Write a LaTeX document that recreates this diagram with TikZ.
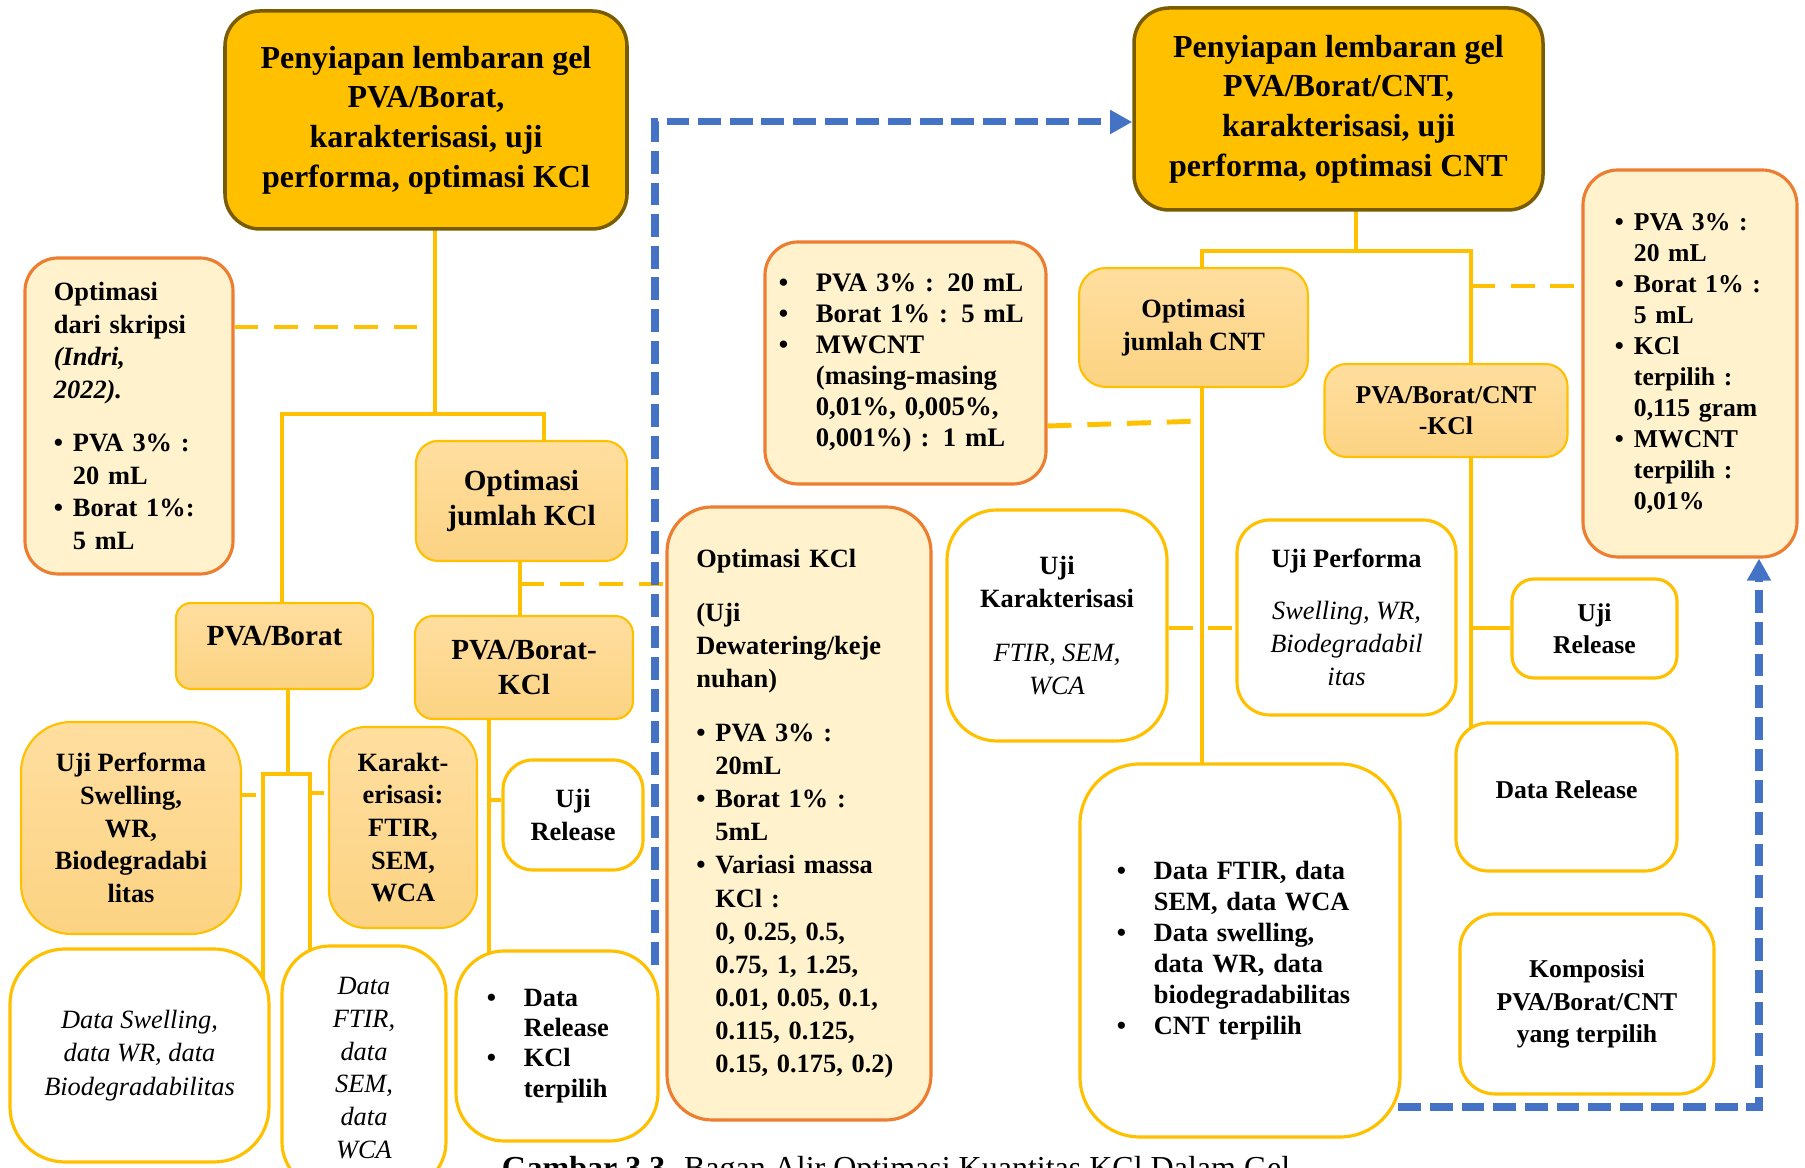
\documentclass[tikz,border=0pt]{standalone}
\usepackage{fontspec}
\setmainfont{Liberation Serif}
\usepackage{tikz}
\usetikzlibrary{positioning,calc,arrows.meta,shadings}
\pgfdeclarelayer{background}
\pgfsetlayers{background,main}

\definecolor{emas}{HTML}{FFC000}
\definecolor{emastua}{HTML}{7A5C00}
\definecolor{oranye}{HTML}{ED7D31}
\definecolor{krem}{HTML}{FFF2CC}
\definecolor{kuningatas}{HTML}{FFDE9F}
\definecolor{kuningbawah}{HTML}{FCD383}
\definecolor{biru}{HTML}{4472C4}

\newcommand{\butir}{\makebox[5.4pt][l]{\textbullet}}
\newcommand{\sisip}{\hspace*{5.4pt}}
\newcommand{\butirlebar}{\makebox[10.5pt][l]{\textbullet}}
\newcommand{\sisiplebar}{\hspace*{10.5pt}}
\newcommand{\ket}[1]{{\mdseries\itshape #1}}
\newcommand{\besar}{\fontsize{8.3}{10.2}\selectfont\bfseries}
\newcommand{\kecil}{\fontsize{7.3}{9}\selectfont\bfseries}
\newcommand{\miring}{\fontsize{7.5}{9.5}\selectfont\itshape}

\begin{document}
\begin{tikzpicture}[
    x=0.01cm, y=-0.01cm,
    sz/.style 2 args={minimum width=#1*0.01cm, minimum height=#2*0.01cm},
    utama/.style={
        rectangle, rounded corners=0.35cm, draw=emastua, fill=emas,
        line width=1pt, align=center, inner sep=0pt,
        font=\fontsize{9.1}{11.3}\selectfont\bfseries,
    },
    catatan/.style={
        rectangle, rounded corners=0.33cm, draw=oranye, fill=krem,
        line width=0.9pt, inner sep=0pt,
        font=\fontsize{7.5}{9.3}\selectfont\bfseries,
    },
    tahap/.style={
        rectangle, rounded corners=0.22cm, draw=emas, line width=0.6pt,
        top color=kuningatas, bottom color=kuningbawah,
        align=center, inner sep=0pt,
        font=\fontsize{7.5}{9.3}\selectfont\bfseries,
    },
    hasil/.style={
        rectangle, rounded corners=0.4cm, draw=emas, fill=white,
        line width=0.9pt, align=center, inner sep=0pt,
        font=\fontsize{7.5}{9.3}\selectfont\bfseries,
    },
    link/.style={draw=emas, line width=1pt},
    putus/.style={draw=emas, line width=1.4pt, dash pattern=on 6.8pt off 4.5pt},
    panah/.style={draw=biru, line width=2pt, dash pattern=on 6.5pt off 2.5pt,
        -{Triangle[length=6.3pt,width=6.5pt]}},
    ]
    \useasboundingbox (0,0) rectangle (1805,1168);
    \clip (0,0) rectangle (1805,1168);

    % PVA/Borat
    \node[utama, sz={402}{218}] (gelpva) at (426,120)
        {Penyiapan lembaran gel\\PVA/Borat,\\karakterisasi, uji\\performa, optimasi KCl};
    \node[catatan, sz={208}{316}, text width=1.5cm, align=left] (skripsi) at (129,416)
        {Optimasi\\dari skripsi\\\textit{(Indri,}\\\textit{2022).}\\[5.7pt]
         \butir PVA 3\% :\\\sisip 20 mL\\\butir Borat 1\%:\\\sisip 5 mL};
    \node[tahap, sz={211}{120}, font=\besar] (optkcl) at (521.5,501) {Optimasi\\jumlah KCl};
    \node[tahap, sz={197}{86}, font=\besar, rounded corners=0.15cm,
        text height=5pt, text depth=5pt] (pvab) at (274.5,646) {PVA/Borat};
    \node[tahap, sz={218}{103}, font=\besar, rounded corners=0.18cm] (pvabkcl) at (524,667.5)
        {PVA/Borat-\\KCl};
    \node[tahap, sz={220}{212}, rounded corners=0.5cm] (perfl) at (131,828)
        {Uji Performa\\Swelling,\\WR,\\Biodegradabi\\litas};
    \node[tahap, sz={148}{201}, rounded corners=0.37cm] (karakl) at (403,827.5)
        {Karakt-\\erisasi:\\FTIR,\\SEM,\\WCA};
    \node[hasil, sz={140}{110}, rounded corners=0.3cm] (rell) at (573,815) {Uji\\Release};
    \node[hasil, sz={259}{213}, rounded corners=0.55cm, font=\miring] (dswell) at (139.5,1055.5)
        {Data Swelling,\\data WR, data\\Biodegradabilitas};
    \node[hasil, sz={164}{244}, rounded corners=0.48cm, font=\fontsize{7.5}{9.3}\selectfont\itshape]
        (dftir) at (364,1068) {Data\\FTIR,\\data\\SEM,\\data\\WCA};
    \node[hasil, sz={202}{190}, rounded corners=0.48cm, text width=1.4cm, align=left,
        font=\fontsize{7.5}{8.6}\selectfont\bfseries] (drell) at (557,1046)
        {\butirlebar Data\\\sisiplebar Release\\\butirlebar KCl\\\sisiplebar terpilih};
    \node[catatan, sz={264}{613}, rounded corners=0.45cm, text width=2.05cm, align=left,
        font=\fontsize{7.5}{9.4}\selectfont\bfseries] (optkclbig) at (799,813.5)
        {Optimasi KCl\\[6pt](Uji\\Dewatering/keje\\nuhan)\\[6pt]
         \butir PVA 3\% :\\\sisip 20mL\\\butir Borat 1\% :\\\sisip 5mL\\
         \butir Variasi massa\\\sisip KCl :\\\sisip 0, 0.25, 0.5,\\\sisip 0.75, 1, 1.25,\\
         \sisip 0.01, 0.05, 0.1,\\\sisip 0.115, 0.125,\\\sisip 0.15, 0.175, 0.2)};

    % PVA/Borat/CNT
    \node[utama, sz={409}{202}] (gelcnt) at (1338.5,109)
        {Penyiapan lembaran gel\\PVA/Borat/CNT,\\karakterisasi, uji\\performa, optimasi CNT};
    \node[catatan, sz={281}{242}, text width=2.53cm, align=left,
        font=\fontsize{7.6}{8.8}\selectfont\bfseries] (cntvar) at (905.5,363)
        {\butirlebar PVA 3\% : 20 mL\\\butirlebar Borat 1\% : 5 mL\\\butirlebar MWCNT\\
         \sisiplebar (masing-masing\\\sisiplebar 0,01\%, 0,005\%,\\\sisiplebar 0,001\%) : 1 mL};
    \node[tahap, sz={229}{119}, rounded corners=0.27cm] (optcnt) at (1193.5,327.5)
        {Optimasi\\jumlah CNT};
    \node[tahap, sz={243}{93}, font=\kecil] (pvabcntkcl) at (1446,410.5) {PVA/Borat/CNT\\-KCl};
    \node[catatan, sz={214}{387}, rounded corners=0.35cm, text width=1.5cm, align=left,
        font=\fontsize{7.3}{8.8}\selectfont\bfseries] (terpilih) at (1690,363.5)
        {\butir PVA 3\% :\\\sisip 20 mL\\\butir Borat 1\% :\\\sisip 5 mL\\\butir KCl\\
         \sisip terpilih :\\\sisip 0,115 gram\\\butir MWCNT\\\sisip terpilih :\\\sisip 0,01\%};
    \node[hasil, sz={220}{231}, rounded corners=0.5cm] (ujikar) at (1057,625.5)
        {Uji\\Karakterisasi\\[6pt]\ket{FTIR, SEM,}\\\ket{WCA}};
    \node[hasil, sz={219}{195}, rounded corners=0.33cm] (perfr) at (1346.5,617.5)
        {Uji Performa\\[5.5pt]\ket{Swelling, WR,}\\\ket{Biodegradabil}\\\ket{itas}};
    \node[hasil, sz={165}{99}, rounded corners=0.22cm, font=\kecil] (relr) at (1594.5,628.5)
        {Uji\\Release};
    \node[hasil, sz={221}{148}, rounded corners=0.32cm, font=\kecil,
        text height=5pt, text depth=3.9pt] (drelr) at (1566.5,797) {Data Release};
    \node[hasil, sz={320}{373}, rounded corners=0.6cm, text width=2.46cm, align=left,
        font=\fontsize{7.5}{8.8}\selectfont\bfseries] (cntdata) at (1240,950.5)
        {\butirlebar Data FTIR, data\\\sisiplebar SEM, data WCA\\\butirlebar Data swelling,\\
         \sisiplebar data WR, data\\\sisiplebar biodegradabilitas\\\butirlebar CNT terpilih};
    \node[hasil, sz={254}{180}, rounded corners=0.35cm, font=\fontsize{7.3}{9.3}\selectfont\bfseries]
        (komposisi) at (1587,1004) {Komposisi\\PVA/Borat/CNT\\yang terpilih};

    \node[anchor=base, font=\fontsize{9.1}{11}\selectfont] (judul) at (896,1179)
        {\textbf{Gambar 3.3.} Bagan Alir Optimasi Kuantitas KCl Dalam Gel};

    \coordinate (cab) at (435,414);
    \coordinate (kiri) at (282,414);
    \coordinate (kanan) at (544,414);
    \coordinate (skd) at (433,327);
    \coordinate (kclx) at (520,584);
    \coordinate (brkA) at (263,774);
    \coordinate (brkM) at (288,774);
    \coordinate (brkB) at (310,774);
    \coordinate (pkA) at (263,795);
    \coordinate (pkB) at (310,793);
    \coordinate (relx) at (489,800);
    \coordinate (cabR) at (1356,251);
    \coordinate (kiriR) at (1202,251);
    \coordinate (kananR) at (1471,251);
    \coordinate (tpd) at (1471,286);
    \coordinate (cntd) at (1202,421);
    \coordinate (ujp) at (1202,628);
    \coordinate (relRx) at (1471,628);
    \coordinate (biruA) at (655,122);
    \coordinate (biruB) at (655,965);
    \coordinate (biruC) at (1759,1107);

    \begin{pgfonlayer}{background}
        \draw[link] (gelpva.center -| cab) -- (cab);
        \draw[link] (pvab.center -| kiri) -- (kiri) -- (kanan) -- (optkcl.center -| kanan);
        \draw[putus] (skripsi.east |- skd) -- (skd);
        \draw[link] (optkcl.center -| kclx) -- (pvabkcl.center -| kclx);
        \draw[putus] (kclx) -- (optkclbig.west |- kclx);
        \draw[link] (pvab.center -| brkM) -- (brkM);
        \draw[link] (dswell.center -| brkA) -- (brkA) -- (brkB) -- (dftir.center -| brkB);
        \draw[putus, dash pattern=on 4pt off 2pt] (perfl.east |- pkA) -- (pkA);
        \draw[putus, dash pattern=on 4pt off 2pt] (pkB) -- (karakl.west |- pkB);
        \draw[link] (pvabkcl.center -| relx) -- (drell.center -| relx);
        \draw[link] (relx) -- (rell.west |- relx);

        \draw[link] (gelcnt.center -| cabR) -- (cabR);
        \draw[link] (optcnt.center -| kiriR) -- (kiriR) -- (kananR) -- (pvabcntkcl.center -| kananR);
        \draw[putus] (tpd) -- (terpilih.west |- tpd);
        \draw[link] (optcnt.center -| kiriR) -- (cntdata.center -| kiriR);
        \draw[putus] ($(cntvar.east)+(0,63)$) -- (cntd);
        \draw[putus] (ujikar.east |- ujp) -- (perfr.west |- ujp);
        \draw[link] (pvabcntkcl.center -| kananR) -- (drelr.center -| kananR);
        \draw[link] (relRx) -- (relr.west |- relRx);

        \draw[panah] (biruB) -- (biruA) -- (gelcnt.west |- biruA);
        \draw[panah] (cntdata.center |- biruC) -- (biruC) -- (terpilih.south -| biruC);
    \end{pgfonlayer}
\end{tikzpicture}
\end{document}
